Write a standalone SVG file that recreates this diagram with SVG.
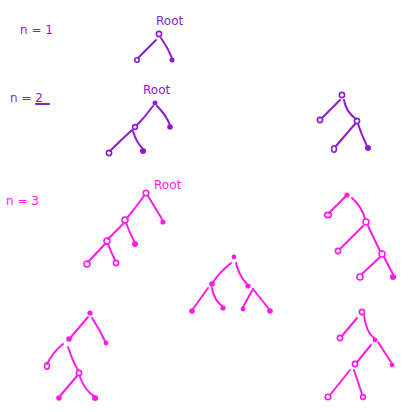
<svg xmlns="http://www.w3.org/2000/svg" width="409" height="412" viewBox="0 0 409 412">
<style>
.e{fill:none;stroke-width:2;stroke-linecap:round}
.p .e,.e.p{stroke:#8e1bcc}
.m .e,.e.m{stroke:#ff1ae8}
.f{stroke:none}
.o{fill:none;stroke-width:1.6}
.pf{fill:#8e1bcc}.po{stroke:#8e1bcc}
.mf{fill:#ff1ae8}.mo{stroke:#ff1ae8}
.t{font-family:"DejaVu Sans",sans-serif;font-size:12px}
.tp{fill:#8e1bcc}.tm{fill:#ff1ae8}
</style>
<rect width="409" height="412" fill="#fff"/>
<g id="labels">
<text class="t tp" x="20" y="34">n = 1</text>
<text class="t tp" x="156" y="25" font-size="11">Root</text>
<text class="t tp" x="10" y="102">n = 2</text>
<path class="e p" d="M36,104 L49,104" stroke-width="1.5"/>
<text class="t tp" x="143" y="94" font-size="11">Root</text>
<text class="t tm" x="6" y="205">n = 3</text>
<text class="t tm" x="154" y="189" font-size="11">Root</text>
</g>
<g id="connectors">
<g class="p">
<path class="e" d="M156,40 L138,58"/>
<path class="e" d="M161,38 Q168,48 172,58"/>
<path class="e" d="M153,106 Q145,117 137,125"/>
<path class="e" d="M157,106 Q166,115 170,125"/>
<path class="e" d="M132,130 Q120,141 110,151"/>
<path class="e" d="M133,131 Q136,142 143,149"/>
<path class="e" d="M340,100 L322,118"/>
<path class="e" d="M344,100 Q346,112 356,119"/>
<path class="e" d="M355,124 L336,146"/>
<path class="e" d="M358,124 Q362,136 367,146"/>
</g>
<g class="m">
<path class="e" d="M144,196 Q136,207 127,218"/>
<path class="e" d="M148,196 L162,219"/>
<path class="e" d="M124,223 L108,239"/>
<path class="e" d="M126,223 Q130,233 134,241"/>
<path class="e" d="M105,244 L88,262"/>
<path class="e" d="M108,244 Q111,252 115,260"/>
<path class="e" d="M345,197 L329,213"/>
<path class="e" d="M352,198 Q362,207 365,219"/>
<path class="e" d="M363,226 L340,249"/>
<path class="e" d="M368,226 L380,251"/>
<path class="e" d="M380,257 L362,274"/>
<path class="e" d="M384,257 Q389,267 393,274"/>
<path class="e" d="M231,263 Q220,272 213,282"/>
<path class="e" d="M236,263 Q239,276 247,284"/>
<path class="e" d="M208,288 Q201,298 193,309"/>
<path class="e" d="M212,288 Q214,300 222,306"/>
<path class="e" d="M253,289 L243,307"/>
<path class="e" d="M253,289 L269,309"/>
<path class="e" d="M88,317 L71,337"/>
<path class="e" d="M92,318 Q100,330 105,341"/>
<path class="e" d="M63,344 Q53,352 47,364"/>
<path class="e" d="M68,347 Q73,362 78,370"/>
<path class="e" d="M77,376 L60,396"/>
<path class="e" d="M80,377 Q85,391 94,396"/>
<path class="e" d="M357,318 L342,336"/>
<path class="e" d="M364,315 Q366,332 374,338"/>
<path class="e" d="M371,345 L357,362"/>
<path class="e" d="M378,342 Q385,353 391,362"/>
<path class="e" d="M350,370 L330,395"/>
<path class="e" d="M354,370 L362,394"/>
</g>
</g>
<g id="n1-root"><circle class="o po" cx="159" cy="34" r="2.6"/></g>
<g id="n1-l"><circle class="o po" cx="137" cy="60" r="2.2"/></g>
<g id="n1-r"><circle class="pf" cx="172" cy="60" r="2.5"/></g>
<g id="n2a-root"><circle class="pf" cx="155" cy="103" r="2.5"/></g>
<g id="n2a-l"><circle class="o po" cx="135" cy="127" r="2.4"/></g>
<g id="n2a-r"><circle class="pf" cx="170" cy="127" r="2.8"/></g>
<g id="n2a-ll"><circle class="o po" cx="109" cy="153" r="2.6"/></g>
<g id="n2a-lr"><circle class="pf" cx="143" cy="151" r="3"/></g>
<g id="n2b-root"><circle class="o po" cx="342" cy="95" r="2.6"/></g>
<g id="n2b-l"><circle class="o po" cx="320" cy="120" r="2.6"/></g>
<g id="n2b-r"><circle class="o po" cx="357" cy="121" r="2.6"/></g>
<g id="n2b-rl"><ellipse class="o po" cx="334" cy="149" rx="2.4" ry="3.2"/></g>
<g id="n2b-rr"><circle class="pf" cx="368" cy="148" r="3"/></g>
<g id="n3a-root"><circle class="o mo" cx="146" cy="193" r="2.8"/></g>
<g id="n3a-r"><circle class="mf" cx="163" cy="222" r="2.6"/></g>
<g id="n3a-l"><circle class="o mo" cx="125" cy="220" r="3"/></g>
<g id="n3a-lr"><circle class="mf" cx="135" cy="244" r="3"/></g>
<g id="n3a-ll"><circle class="o mo" cx="107" cy="241" r="3"/></g>
<g id="n3a-lll"><circle class="o mo" cx="87" cy="264" r="3"/></g>
<g id="n3a-llr"><circle class="o mo" cx="116" cy="263" r="2.6"/></g>
<g id="n3b-root"><circle class="mf" cx="347" cy="195" r="2.6"/></g>
<g id="n3b-l"><ellipse class="o mo" cx="328" cy="215" rx="3.4" ry="2.6"/></g>
<g id="n3b-r"><circle class="o mo" cx="366" cy="222" r="3"/></g>
<g id="n3b-rl"><circle class="o mo" cx="338" cy="251" r="2.6"/></g>
<g id="n3b-rr"><circle class="o mo" cx="382" cy="254" r="3"/></g>
<g id="n3b-rrl"><circle class="o mo" cx="360" cy="277" r="3"/></g>
<g id="n3b-rrr"><circle class="mf" cx="393" cy="277" r="3"/></g>
<g id="n3c-root"><circle class="mf" cx="234" cy="257" r="2.4"/></g>
<g id="n3c-l"><circle class="mf" cx="212" cy="284" r="2.8"/></g>
<g id="n3c-r"><circle class="mf" cx="248" cy="286" r="2.6"/></g>
<g id="n3c-ll"><circle class="mf" cx="192" cy="311" r="2.8"/></g>
<g id="n3c-lr"><circle class="mf" cx="223" cy="308" r="2.6"/></g>
<g id="n3c-rl"><circle class="mf" cx="243" cy="309" r="2.4"/></g>
<g id="n3c-rr"><circle class="mf" cx="270" cy="311" r="2.8"/></g>
<g id="n3d-root"><circle class="mf" cx="90" cy="313" r="2.6"/></g>
<g id="n3d-l"><circle class="mf" cx="69" cy="339" r="2.8"/></g>
<g id="n3d-r"><circle class="mf" cx="106" cy="343" r="2.4"/></g>
<g id="n3d-ll"><ellipse class="o mo" cx="47" cy="366" rx="2.4" ry="3.2"/></g>
<g id="n3d-lr"><circle class="o mo" cx="79" cy="373" r="2.6"/></g>
<g id="n3d-lrl"><circle class="mf" cx="59" cy="398" r="2.8"/></g>
<g id="n3d-lrr"><circle class="mf" cx="95" cy="398" r="3"/></g>
<g id="n3e-root"><circle class="o mo" cx="362" cy="312" r="2.6"/></g>
<g id="n3e-l"><circle class="o mo" cx="340" cy="338" r="2.6"/></g>
<g id="n3e-r"><circle class="mf" cx="375" cy="340" r="2.4"/></g>
<g id="n3e-rl"><circle class="o mo" cx="355" cy="364" r="2.6"/></g>
<g id="n3e-rr"><circle class="mf" cx="392" cy="365" r="2.4"/></g>
<g id="n3e-rll"><circle class="o mo" cx="328" cy="397" r="2.8"/></g>
<g id="n3e-rlr"><circle class="o mo" cx="363" cy="397" r="2.4"/></g>
</svg>
